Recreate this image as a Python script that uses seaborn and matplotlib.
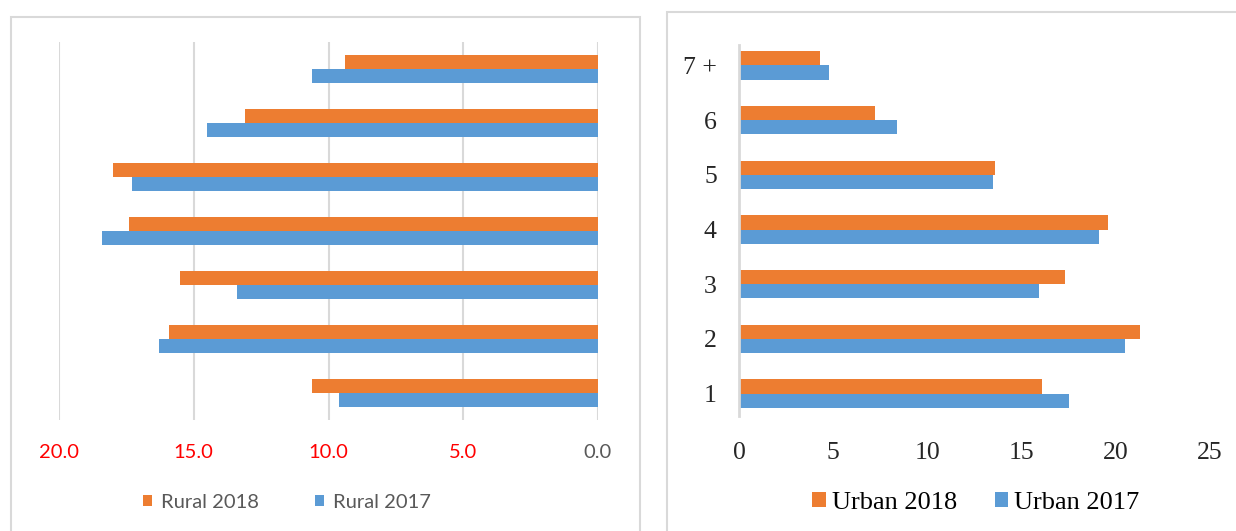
import pandas as pd
import matplotlib
matplotlib.use("Agg")
import matplotlib.pyplot as plt
import seaborn as sns
from matplotlib.patches import Rectangle

# household size categories (top to bottom)
categories = ["7 +", "6", "5", "4", "3", "2", "1"]

rural_2018 = [9.4, 13.1, 18.0, 17.4, 15.5, 15.9, 10.6]
rural_2017 = [10.6, 14.5, 17.3, 18.4, 13.4, 16.3, 9.6]
urban_2018 = [4.3, 7.2, 13.6, 19.6, 17.3, 21.3, 16.1]
urban_2017 = [4.8, 8.4, 13.5, 19.1, 15.9, 20.5, 17.5]

left_ticks = [20, 15, 10, 5, 0]
left_tick_labels = ["20.0", "15.0", "10.0", "5.0", "0.0"]
right_ticks = [0, 5, 10, 15, 20, 25]

ORANGE = "#ED7D31"
BLUE = "#5B9BD5"
GRID = "#D9D9D9"

sns.set_style("white")


def long_frame(v18, v17, prefix):
    return pd.DataFrame({
        "cat": categories * 2,
        "value": list(v18) + list(v17),
        "series": [f"{prefix} 2018"] * len(categories) + [f"{prefix} 2017"] * len(categories),
    })


rural = long_frame(rural_2018, rural_2017, "Rural")
urban = long_frame(urban_2018, urban_2017, "Urban")

W, H = 1236, 531
fig = plt.figure(figsize=(W / 100, H / 100), dpi=100)


def fig_rect(x0, y0, x1, y1):
    # pixel box (top-left origin) -> figure fraction
    return [x0 / W, 1 - y1 / H, (x1 - x0) / W, (y1 - y0) / H]


# chart frames
fig.patches.append(Rectangle((11 / W, -0.01), (640 - 11) / W, 1 - 17 / H + 0.01,
                             transform=fig.transFigure, fill=False, edgecolor=GRID, lw=1.5))
fig.patches.append(Rectangle((667 / W, -0.01), 1.0, 1 - 12 / H + 0.01,
                             transform=fig.transFigure, fill=False, edgecolor=GRID, lw=1.5))

# ---- left: rural ----
ax1 = fig.add_axes(fig_rect(59, 42, 598, 420))
sns.barplot(data=rural, y="cat", x="value", hue="series", order=categories,
            hue_order=["Rural 2018", "Rural 2017"], palette=[ORANGE, BLUE],
            orient="h", width=0.52, linewidth=0, saturation=1, ax=ax1)
ax1.set_xlim(20, 0)
ax1.set_ylim(6.5, -0.5)
ax1.set_xticks(left_ticks)
ax1.set_xticklabels(left_tick_labels, family="Lato", fontsize=14.5)
for lbl in ax1.get_xticklabels():
    lbl.set_color("#595959" if lbl.get_text() == "0.0" else "red")
ax1.set_yticks([])
ax1.set_xlabel("")
ax1.set_ylabel("")
ax1.tick_params(axis="x", length=0, pad=17)
for s in ax1.spines.values():
    s.set_visible(False)
for t in left_ticks:
    ax1.axvline(t, color=GRID, lw=1.5, zorder=0)
h, l = ax1.get_legend_handles_labels()
ax1.legend(h, l, loc="center", bbox_to_anchor=(287 / W, 1 - 502 / H),
           bbox_transform=fig.transFigure, ncol=2, frameon=False,
           prop={"family": "Lato", "size": 14.5}, labelcolor="#595959",
           handlelength=0.42, handleheight=0.42, handletextpad=0.45, columnspacing=2.8)

# ---- right: urban ----
ax2 = fig.add_axes(fig_rect(739, 38, 1210, 421))
sns.barplot(data=urban, y="cat", x="value", hue="series", order=categories,
            hue_order=["Urban 2018", "Urban 2017"], palette=[ORANGE, BLUE],
            orient="h", width=0.52, linewidth=0, saturation=1, ax=ax2)
ax2.set_xlim(0, 25)
ax2.set_ylim(6.5, -0.5)
ax2.set_xticks(right_ticks)
ax2.set_xticklabels([str(t) for t in right_ticks], family="Liberation Serif", fontsize=18.5)
ax2.set_yticks(range(len(categories)))
ax2.set_yticklabels(categories, family="Liberation Serif", fontsize=18.5)
ax2.set_xlabel("")
ax2.set_ylabel("")
ax2.tick_params(axis="x", length=0, pad=15)
ax2.tick_params(axis="y", length=0, pad=16)
for name, s in ax2.spines.items():
    s.set_visible(name == "left")
ax2.spines["left"].set_color(GRID)
ax2.spines["left"].set_linewidth(2)
ax2.spines["left"].set_bounds(6.4, -0.38)
h, l = ax2.get_legend_handles_labels()
ax2.legend(h, l, loc="center", bbox_to_anchor=(976 / W, 1 - 503 / H),
           bbox_transform=fig.transFigure, ncol=2, frameon=False,
           prop={"family": "Liberation Serif", "size": 19}, labelcolor="black",
           handlelength=0.5, handleheight=0.5, handletextpad=0.23, columnspacing=1.45)

fig.savefig("out.png", dpi=100)
